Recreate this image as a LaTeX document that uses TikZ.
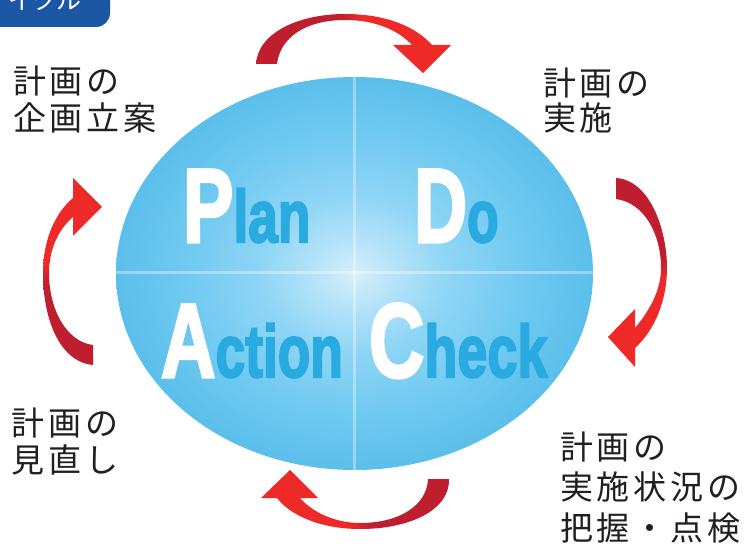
\documentclass[tikz,border=0pt]{standalone}
\usepackage{fontspec}
\setmainfont{Liberation Sans}
\newfontfamily\pdcafont{Liberation Sans}[FakeBold=3]
\newfontfamily\jp{Noto Sans CJK JP}[LetterSpace=12]
\newfontfamily\jptab{Noto Sans CJK JP}
\definecolor{arrdark}{HTML}{BE1E2D}
\definecolor{arrbright}{HTML}{ED2A27}
\definecolor{letblue}{HTML}{29AAE1}
\definecolor{labtext}{HTML}{231F20}
\definecolor{tabblue}{HTML}{1C57A5}
\definecolor{bz}{HTML}{D6F0FC}
\definecolor{bo}{HTML}{BEE6F9}
\definecolor{bt}{HTML}{8ED5F5}
\definecolor{bh}{HTML}{6FC9F0}
\definecolor{bf}{HTML}{5BBFEB}
\pgfdeclarehorizontalshading{arrowshade}{100bp}{color(0bp)=(arrdark); color(46bp)=(arrdark); color(52bp)=(arrbright); color(100bp)=(arrbright)}
\pgfdeclareradialshading{ballshade}{\pgfpoint{0bp}{0bp}}{color(0bp)=(bz); color(3bp)=(bo); color(10bp)=(bt); color(18bp)=(bh); color(25bp)=(bf); color(50bp)=(bf)}
\newcommand\pdcaword[3]{\scalebox{#1}[1]{\pdcafont\bfseries{\fontsize{105}{105}\selectfont\color{white}#2}{\fontsize{74}{74}\selectfont\color{letblue}#3}}}
\tikzset{
  word/.style={anchor=base west, inner sep=0pt, outer sep=0pt},
  lab/.style={anchor=base west, inner sep=0pt, outer sep=0pt, text=labtext, font=\jp\fontsize{33}{33}\selectfont},
  arrowbody/.style={shading=arrowshade},
  quarter/.style={white, opacity=0.35, line width=3pt}
}
\begin{document}
\begin{tikzpicture}[x=1pt, y=-1pt]
\useasboundingbox (0,0) rectangle (748,548);
\clip (0,0) rectangle (748,548);
\fill[white] (0,0) rectangle (748,548);

% tab
\fill[tabblue, rounded corners=14pt] (-20,-20) rectangle (110,27);
\node[anchor=base east, inner sep=0pt, text=white, font=\jptab\fontsize{25}{25}\selectfont] (tab) at (82,10) {イクル};

% ellipse
\shade[shading=ballshade] (354.5,273.5) ellipse [x radius=238.5, y radius=196.5];
\begin{scope}
\clip (354.5,273.5) ellipse [x radius=238.5, y radius=196.5];
\draw[quarter] (354,70) -- (354,480);
\draw[quarter] (110,273) -- (600,273);
\end{scope}

% PDCA words
\node[word] (plan) at (183,242) {\pdcaword{0.72}{P}{lan}};
\node[word] (do) at (414,242) {\pdcaword{0.70}{D}{o}};
\node[word] (action) at (161,377) {\pdcaword{0.72}{A}{ction}};
\node[word] (check) at (369,377) {\pdcaword{0.73}{C}{heck}};

% arrows
\shade[arrowbody, shading angle=0]
  (256,64) .. controls (258,32) and (300,14) .. (345,14)
  .. controls (385,14) and (415,26) .. (432,45)
  -- (451,45) -- (423,73) -- (393,45) -- (412,45)
  .. controls (398,30) and (375,20) .. (345,20)
  .. controls (305,20) and (280,38) .. (277,64) -- cycle;
\shade[arrowbody, shading angle=-90]
  (616,178) .. controls (650,180) and (667,230) .. (667,268)
  .. controls (667,300) and (655,330) .. (635,348)
  -- (635,367) -- (608,337) -- (635,309) -- (635,328)
  .. controls (650,310) and (661,290) .. (661,268)
  .. controls (661,235) and (645,203) .. (616,199) -- cycle;
\shade[arrowbody, shading angle=180]
  (449,479) .. controls (450,510) and (410,529) .. (360,529)
  .. controls (320,529) and (290,515) .. (277,498)
  -- (261,498) -- (290,470) -- (318,498) -- (300,498)
  .. controls (312,512) and (335,523) .. (360,523)
  .. controls (400,523) and (427,505) .. (428,479) -- cycle;
\shade[arrowbody, shading angle=90]
  (93,365) .. controls (60,362) and (43,320) .. (43,273)
  .. controls (43,240) and (55,213) .. (73,198)
  -- (73,178) -- (102,207) -- (73,236) -- (73,217)
  .. controls (58,230) and (49,250) .. (49,273)
  .. controls (49,310) and (67,342) .. (93,345) -- cycle;

% labels
\node[lab] (tl1) at (13,94) {計画の};
\node[lab] (tl2) at (13,131) {企画立案};
\node[lab] (tr1) at (543,95.5) {計画の};
\node[lab] (tr2) at (543,131) {実施};
\node[lab] (bl1) at (11.5,435.5) {計画の};
\node[lab] (bl2) at (11.5,472.5) {見直し};
\node[lab] (br1) at (560,459) {計画の};
\node[lab] (br2) at (560,499) {実施状況の};
\node[lab] (br3) at (560,540) {把握・点検};
\end{tikzpicture}
\end{document}
